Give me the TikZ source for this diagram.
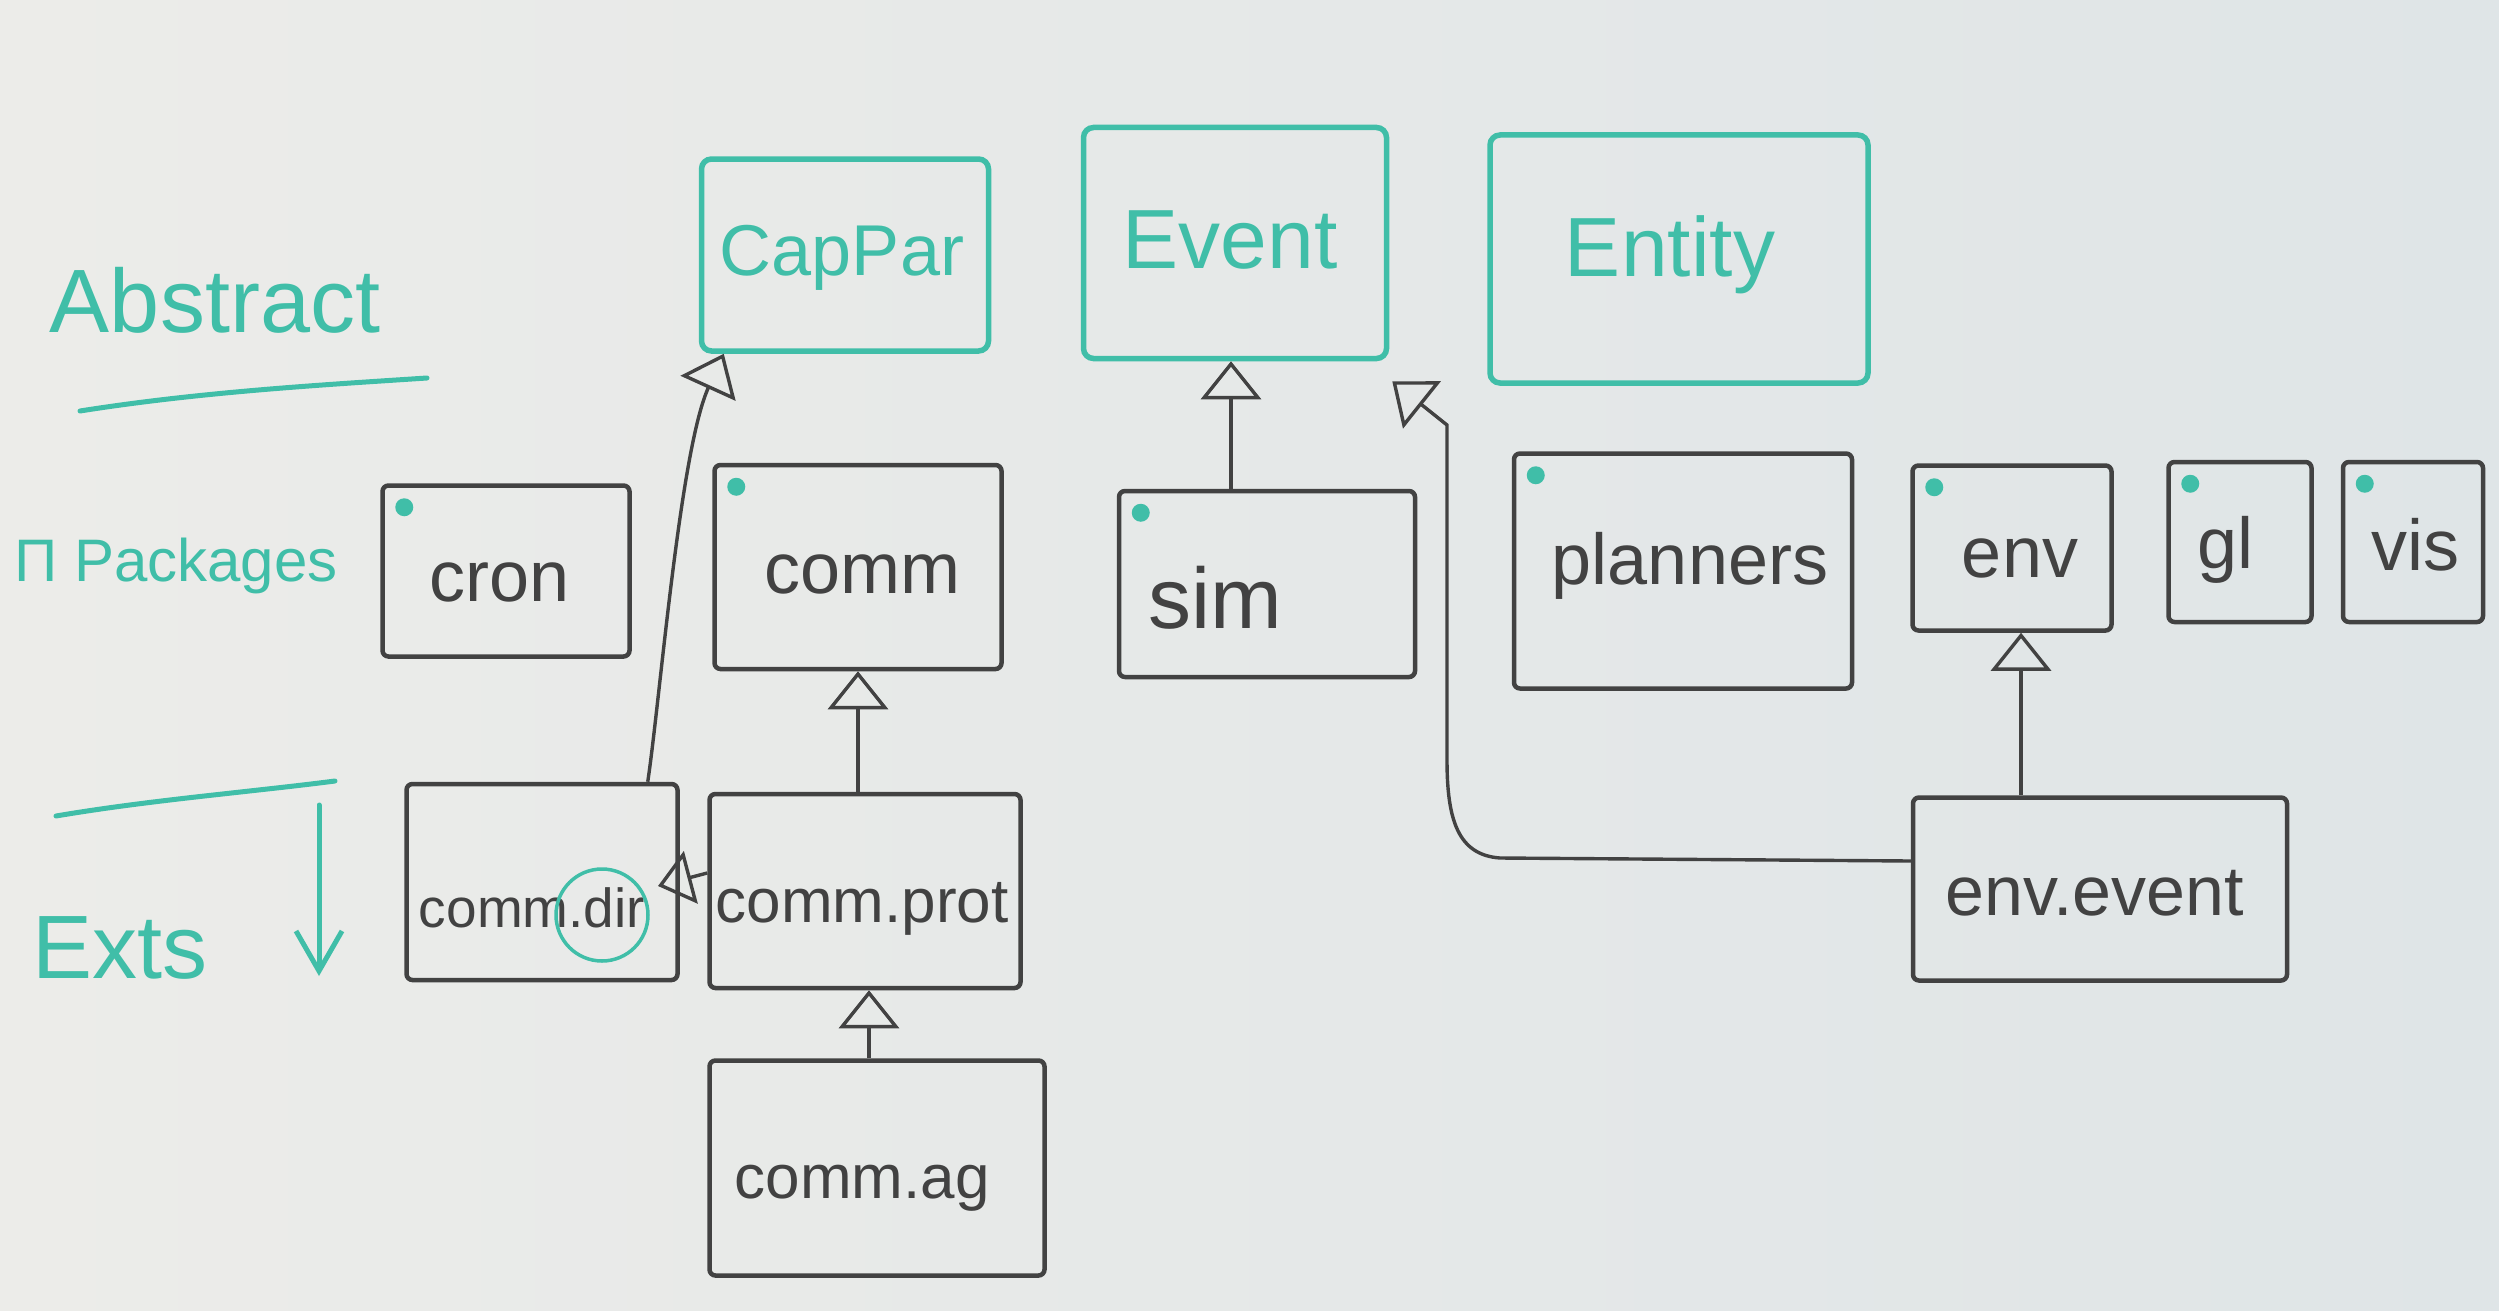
\documentclass[tikz,border=0pt]{standalone}
\usepackage{fontspec}
\setmainfont{Liberation Sans}
\usetikzlibrary{arrows.meta}
\definecolor{marker}{RGB}{64,190,168}
\definecolor{ink}{RGB}{66,66,66}
\definecolor{boardL}{RGB}{236,236,233}
\definecolor{boardR}{RGB}{223,229,231}
\begin{document}
\begin{tikzpicture}[x=1pt,y=-1pt,
  abstractbox/.style={draw=marker, line width=5.5pt, rounded corners=10pt, inner sep=0pt},
  abstractlabel/.style={text=marker, font=\fontsize{84}{90}\selectfont},
  pkgbox/.style={draw=ink, line width=4.5pt, rounded corners=6pt, inner sep=0pt},
  pkglabel/.style={text=ink, font=\fontsize{72}{80}\selectfont},
  extlabel/.style={text=ink, font=\fontsize{62}{70}\selectfont},
  heading/.style={text=marker, font=\fontsize{90}{100}\selectfont},
  markerline/.style={draw=marker, line width=5pt, line cap=round},
  inherits/.style={draw=ink, line width=3.4pt, -{Triangle[open,length=38pt,width=60pt]}},
  pkgdot/.style={fill=marker}]

% whiteboard
\shade[left color=boardL, right color=boardR] (0,0) rectangle (2499,1311);
\useasboundingbox (0,0) rectangle (2499,1311);

% row headings
\node[heading] (habs) at (215,300) {Abstract};
\draw[markerline] (80,411) .. controls (200,392) and (320,385) .. (427,378);
\node[heading, font=\fontsize{60}{66}\selectfont] (hpkg) at (176,566) {Π Packages};
\node[heading] (hext) at (120,948) {Exts};
\draw[markerline] (56,816) .. controls (150,800) and (250,792) .. (335,781);
\coordinate (extsTop) at (319,805);
\coordinate (extsEnd) at (319,976);
\draw[markerline, -{Straight Barb[length=40pt,width=46pt]}] (extsTop) -- (extsEnd);

% abstract row
\node[abstractbox, minimum width=287pt, minimum height=192pt] (cap) at (845,255) {};
\node[abstractlabel, font=\fontsize{72}{80}\selectfont] (capT) at (842,258) {CapPar};
\node[abstractbox, minimum width=303pt, minimum height=231pt] (ev) at (1235,243) {};
\node[abstractlabel] (evT) at (1230,240) {Event};
\node[abstractbox, minimum width=378pt, minimum height=248pt] (ent) at (1679,259) {};
\node[abstractlabel] (entT) at (1670,255) {Entity};

% packages row
\node[pkgbox, minimum width=247pt, minimum height=171pt] (cron) at (506,571) {};
\node[pkglabel] (cronT) at (500,582) {cron};
\node[pkgbox, minimum width=287pt, minimum height=204pt] (comm) at (858,567) {};
\node[pkglabel] (commT) at (862,574) {comm};
\node[pkgbox, minimum width=296pt, minimum height=186pt] (sim) at (1267,584) {};
\node[pkglabel, font=\fontsize{86}{90}\selectfont] (simT) at (1215,598) {sim};
\node[pkgbox, minimum width=338pt, minimum height=235pt] (plan) at (1683,571) {};
\node[pkglabel] (planT) at (1690,566) {planners};
\node[pkgbox, minimum width=199pt, minimum height=165pt] (env) at (2012,548) {};
\node[pkglabel] (envT) at (2020,558) {env};
\node[pkgbox, minimum width=143pt, minimum height=160pt] (gl) at (2240,542) {};
\node[pkglabel] (glT) at (2225,550) {gl};
\node[pkgbox, minimum width=140pt, minimum height=160pt] (vis) at (2413,542) {};
\node[pkglabel] (visT) at (2415,545) {vis};

% package markers
\foreach \p in {cron,comm,sim,plan,env,gl,vis}
  \fill[pkgdot] ([shift={(24,24)}]\p.north west) circle (9pt);

% extensions row
\node[pkgbox, minimum width=271pt, minimum height=196pt] (cdir) at (542,882) {};
\node[extlabel, font=\fontsize{55}{60}\selectfont] (cdirT) at (532,908) {comm.dir};
\draw[draw=marker, line width=3.5pt] (602,915) circle (46pt);
\node[pkgbox, minimum width=311pt, minimum height=194pt] (cprot) at (865,891) {};
\node[extlabel] (cprotT) at (862,909) {comm.prot};
\node[pkgbox, minimum width=335pt, minimum height=215pt] (cag) at (877,1168) {};
\node[extlabel] (cagT) at (862,1188) {comm.ag};
\node[pkgbox, minimum width=374pt, minimum height=183pt] (ee) at (2100,889) {};
\node[extlabel, font=\fontsize{70}{76}\selectfont] (eeT) at (2095,893) {env.event};

% inheritance connectors
\draw[inherits] ([xshift=-32pt]cdir.north east) .. controls (660,700) and (680,450) .. ([xshift=25pt]cap.south west);
\draw[inherits] (sim.north -| 1231,0) -- (ev.south -| 1231,0);
\coordinate (eeBend) at (1447,425);
\draw[inherits] (ee.west |- 0,861) -- (1500,858) .. controls (1458,855) and (1447,820) .. (1447,760) -- (eeBend) -- ([shift={(3,20)}]ev.south east);
\draw[inherits] (cprot.north -| 858,0) -- (comm.south -| 858,0);
\coordinate (dirTip) at (658,886);
\draw[inherits, -{Triangle[open,length=34pt,width=54pt]}] (cprot.west |- 0,873) -- (dirTip);
\draw[inherits] (cag.north -| 869,0) -- (cprot.south -| 869,0);
\draw[inherits] (ee.north -| 2021,0) -- (env.south -| 2021,0);
\end{tikzpicture}
\end{document}
